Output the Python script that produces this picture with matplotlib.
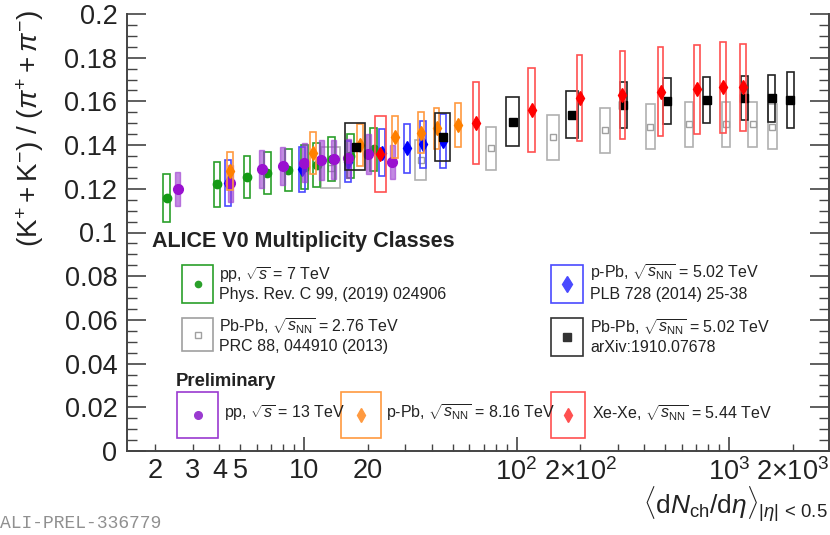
import matplotlib
matplotlib.use('Agg')
import matplotlib.pyplot as plt
import numpy as np
from matplotlib.patches import Rectangle
from matplotlib.lines import Line2D
from matplotlib.ticker import FixedLocator, FuncFormatter

plt.rcParams['font.family'] = 'Liberation Sans'
plt.rcParams['mathtext.fontset'] = 'custom'
plt.rcParams['mathtext.rm'] = 'Liberation Sans'
plt.rcParams['mathtext.it'] = 'Liberation Sans:italic'
plt.rcParams['mathtext.bf'] = 'Liberation Sans:bold'

# ---- data ----
# pp 7 TeV
pp7_x = [2.26, 3.90, 5.40, 6.72, 8.45, 10.1, 11.5, 13.5, 16.5, 21.3]
pp7_y = [0.1156, 0.1220, 0.1253, 0.1271, 0.1286, 0.1300, 0.1309, 0.1336, 0.1350, 0.1380]
pp7_sys = [0.0110, 0.0103, 0.0095, 0.0096, 0.0097, 0.0100, 0.0100, 0.0100, 0.0100, 0.0100]
pp7_xerr = [0.08, 0.14, 0.20, 0.25, 0.31, 0.37, 0.43, 0.50, 0.61, 0.79]

# pp 13 TeV (preliminary)
pp13_x = [2.55, 4.50, 6.32, 7.95, 10.02, 12.04, 13.77, 16.17, 20.02, 26.02]
pp13_y = [0.1198, 0.1225, 0.1290, 0.1304, 0.1320, 0.1332, 0.1335, 0.1340, 0.1360, 0.1324]
pp13_sys = [0.0078, 0.0085, 0.0086, 0.0088, 0.0090, 0.0090, 0.0090, 0.0090, 0.0092, 0.0078]
pp13_xerr = [0.07, 0.12, 0.17, 0.21, 0.27, 0.32, 0.37, 0.43, 0.54, 0.70]

# p-Pb 5.02 TeV
pPb502_x = [4.4, 9.8, 16.1, 23.2, 30.5, 36.2, 45.0]
pPb502_y = [0.1225, 0.1289, 0.1324, 0.1365, 0.1385, 0.1404, 0.1420]
pPb502_sys = [0.0105, 0.0103, 0.0095, 0.0107, 0.0113, 0.0107, 0.0124]
pPb502_xerr = [0.15, 0.33, 0.54, 0.78, 1.0, 1.2, 1.5]

# p-Pb 8.16 TeV (preliminary)
pPb816_x = [4.5, 11.0, 18.3, 26.8, 35.5, 42.1, 53.2]
pPb816_y = [0.1282, 0.1362, 0.1400, 0.1436, 0.1457, 0.1476, 0.1492]
pPb816_sys = [0.0088, 0.0096, 0.0095, 0.0095, 0.0095, 0.0095, 0.0099]
pPb816_xerr = [0.14, 0.34, 0.57, 0.83, 1.1, 1.3, 1.65]

# Pb-Pb 2.76 TeV
PbPb276_x = [13.4, 35.5, 76.0, 149.0, 261.0, 426.0, 649.0, 966.0, 1294.0, 1601.0]
PbPb276_y = [0.1297, 0.1332, 0.1385, 0.1436, 0.1469, 0.1484, 0.1495, 0.1495, 0.1495, 0.1484]
PbPb276_sys = [0.0095, 0.0092, 0.0098, 0.0103, 0.0103, 0.0103, 0.0103, 0.0103, 0.0103, 0.0103]
PbPb276_xerr = [1.4, 2.2, 4.5, 9.1, 14.5, 21, 29, 43, 60, 75]

# Pb-Pb 5.02 TeV
PbPb502_x = [17.5, 44.9, 96.3, 183.0, 318.0, 512.0, 786.0, 1180.0, 1587.0, 1943.0]
PbPb502_y = [0.1393, 0.1436, 0.1507, 0.1540, 0.1584, 0.1603, 0.1606, 0.1617, 0.1614, 0.1606]
PbPb502_sys = [0.0107, 0.0111, 0.0113, 0.0109, 0.0107, 0.0105, 0.0107, 0.0100, 0.0107, 0.0130]
PbPb502_xerr = [1.9, 3.7, 6.6, 11.6, 12.5, 22, 30, 46, 62, 76]

# Xe-Xe 5.44 TeV (preliminary)
XeXe_x = [22.9, 64.7, 118.0, 198.0, 315.0, 478.0, 706.0, 939.0, 1167.0]
XeXe_y = [0.1359, 0.1500, 0.1560, 0.1614, 0.1629, 0.1645, 0.1655, 0.1664, 0.1664]
XeXe_sys = [0.0172, 0.0187, 0.0193, 0.0197, 0.0200, 0.0202, 0.0204, 0.0207, 0.0200]
XeXe_xerr = [1.3, 2.1, 4.4, 6.2, 9.7, 13, 22, 29, 36]

# tick labels
xmajor_labels = {10: '10', 100: r'$10^{2}$', 1000: r'$10^{3}$'}
xminor_labels = {2: '2', 3: '3', 4: '4', 5: '5', 20: '20',
                 200: r'$2{\times}10^{2}$', 2000: r'$2{\times}10^{3}$'}

W, H = 830, 535
fig = plt.figure(figsize=(W / 100, H / 100), dpi=100)
ax = fig.add_axes([127 / W, 1 - 451 / H, 702 / W, 437 / H])
ax.set_xscale('log')
ax.set_xlim(1.469, 2955)
ax.set_ylim(0, 0.2)


def draw(xs, ys, sys, xerr, color, boxcolor, marker, ms, mfc=None, filled_box=False, z=3):
    for x, y, s, xe in zip(xs, ys, sys, xerr):
        if filled_box:
            r = Rectangle((x - xe, y - s), 2 * xe, 2 * s, facecolor=boxcolor,
                          edgecolor=boxcolor, alpha=0.6, lw=1.0, zorder=z)
        else:
            r = Rectangle((x - xe, y - s), 2 * xe, 2 * s, fill=False,
                          edgecolor=boxcolor, lw=1.2, zorder=z)
        ax.add_patch(r)
    ax.plot(xs, ys, ls='none', marker=marker, ms=ms, color=color,
            mfc=mfc if mfc else color, mec=color, mew=1.0, zorder=z + 0.5)


draw(PbPb276_x, PbPb276_y, PbPb276_sys, PbPb276_xerr, '#a0a0a0', '#b0b0b0', 's', 4, mfc='white', z=2)
draw(pp7_x, pp7_y, pp7_sys, pp7_xerr, '#159a15', '#2aa02a', 'o', 6, z=3)
draw(pPb502_x, pPb502_y, pPb502_sys, pPb502_xerr, '#0000ff', '#4a4aff', 'd', 7, z=4)
draw(pp13_x, pp13_y, pp13_sys, pp13_xerr, '#9a10d0', '#9a3ad0', 'o', 7, filled_box=True, z=5)
draw(pPb816_x, pPb816_y, pPb816_sys, pPb816_xerr, '#ff8000', '#ff9a40', 'd', 7, z=6)
draw(PbPb502_x, PbPb502_y, PbPb502_sys, PbPb502_xerr, '#000000', '#222222', 's', 5.5, z=7)
draw(XeXe_x, XeXe_y, XeXe_sys, XeXe_xerr, '#ff0000', '#ff5050', 'd', 7, z=8)

# axes styling
for side in ['left', 'bottom', 'right']:
    ax.spines[side].set_linewidth(1.4)
    ax.spines[side].set_color('#444444')
ax.spines['top'].set_visible(False)

ax.xaxis.set_major_locator(FixedLocator(list(xmajor_labels.keys())))
ax.xaxis.set_major_formatter(FuncFormatter(lambda v, p: xmajor_labels.get(int(round(v)), '')))
minor_pos = [m * 10 ** k for k in range(0, 4) for m in range(2, 10)]
ax.xaxis.set_minor_locator(FixedLocator(minor_pos))
ax.xaxis.set_minor_formatter(FuncFormatter(lambda v, p: xminor_labels.get(int(round(v)), '')))

ax.set_yticks(np.arange(0, 0.2001, 0.02))
ax.set_yticklabels(['0', '0.02', '0.04', '0.06', '0.08', '0.1', '0.12', '0.14',
                    '0.16', '0.18', '0.2'])
ax.set_yticks(np.arange(0, 0.2001, 0.005), minor=True)

ax.tick_params(axis='x', which='both', direction='in', labelsize=19.5, pad=5,
               color='#444444', labelcolor='#222222')
ax.tick_params(axis='x', which='major', length=10, width=1.2)
ax.tick_params(axis='x', which='minor', length=5, width=1.0)
ax.tick_params(axis='y', which='both', direction='in', labelsize=19.5, pad=7,
               right=True, color='#444444', labelcolor='#222222')
ax.tick_params(axis='y', which='major', length=14, width=1.2)
ax.tick_params(axis='y', which='minor', length=7, width=1.0)

fig.text(0.036, 1 - 10 / H, r'$(\mathrm{K}^{+} + \mathrm{K}^{-})\ /\ (\pi^{+} + \pi^{-})$',
         rotation=90, ha='center', va='top', fontsize=20, color='#222222')
fig.text(828 / W, 1 - 514 / H,
         r'$\langle\mathrm{d}N_{\mathrm{ch}}/\mathrm{d}\eta\rangle_{|\eta|\,<\,0.5}$',
         ha='right', va='baseline', fontsize=19, color='#222222')
fig.text(0 / W, 1 - 523 / H, 'ALI-PREL-336779', family='Liberation Mono',
         fontsize=13, color='#909090', ha='left', va='center')

# legend (built by hand, ROOT-like)
def fx(px):
    return px / W


def fy(py):
    return 1 - py / H


def leg_box(x0, y0, x1, y1, color, marker, ms, mfc=None):
    fig.patches.append(Rectangle((fx(x0), fy(y1)), fx(x1) - fx(x0), fy(y0) - fy(y1),
                                 transform=fig.transFigure, fill=False,
                                 edgecolor=color, lw=1.2))
    fig.lines.append(Line2D([fx((x0 + x1) / 2)], [fy((y0 + y1) / 2)], transform=fig.transFigure,
                            marker=marker, ms=ms, color=color, mfc=mfc if mfc else color,
                            mec=color, ls='none'))


tc = '#222222'
fs = 11.5
fig.text(fx(152), fy(241), 'ALICE V0 Multiplicity Classes', fontsize=15.5, weight='bold',
         ha='left', va='center', color=tc)
leg_box(182, 265, 213, 303, '#2aa02a', 'o', 4.5)
fig.text(fx(219), fy(275), r'pp, $\sqrt{s}$ = 7 TeV', fontsize=fs, ha='left', va='center', color=tc)
fig.text(fx(219), fy(294), 'Phys. Rev. C 99, (2019) 024906', fontsize=fs, ha='left', va='center', color=tc)
leg_box(182, 318, 213, 351, '#a0a0a0', 's', 5, mfc='white')
fig.text(fx(219), fy(326), r'Pb-Pb, $\sqrt{s_{\mathrm{NN}}}$ = 2.76 TeV', fontsize=fs, ha='left', va='center', color=tc)
fig.text(fx(219), fy(347), 'PRC 88, 044910 (2013)', fontsize=fs, ha='left', va='center', color=tc)
leg_box(551, 265, 583, 303, '#4a4aff', 'd', 8)
fig.text(fx(590), fy(273), r'p-Pb, $\sqrt{s_{\mathrm{NN}}}$ = 5.02 TeV', fontsize=fs, ha='left', va='center', color=tc)
fig.text(fx(590), fy(294), 'PLB 728 (2014) 25-38', fontsize=fs, ha='left', va='center', color=tc)
leg_box(551, 318, 583, 356, '#333333', 's', 5.5)
fig.text(fx(590), fy(327), r'Pb-Pb, $\sqrt{s_{\mathrm{NN}}}$ = 5.02 TeV', fontsize=fs, ha='left', va='center', color=tc)
fig.text(fx(590), fy(347), 'arXiv:1910.07678', fontsize=fs, ha='left', va='center', color=tc)

fig.text(fx(176), fy(381), 'Preliminary', fontsize=13.3, weight='bold', ha='left', va='center', color=tc)
leg_box(177, 392, 218, 438, '#9a3ad0', 'o', 5.5)
fig.text(fx(224), fy(413), r'pp, $\sqrt{s}$ = 13 TeV', fontsize=fs, ha='left', va='center', color=tc)
leg_box(341, 392, 381, 438, '#ff9a40', 'd', 7)
fig.text(fx(386), fy(413), r'p-Pb, $\sqrt{s_{\mathrm{NN}}}$ = 8.16 TeV', fontsize=fs, ha='left', va='center', color=tc)
leg_box(551, 392, 585, 438, '#ff5050', 'd', 7)
fig.text(fx(592), fy(413), r'Xe-Xe, $\sqrt{s_{\mathrm{NN}}}$ = 5.44 TeV', fontsize=fs, ha='left', va='center', color=tc)

fig.savefig('out.png', dpi=100)
